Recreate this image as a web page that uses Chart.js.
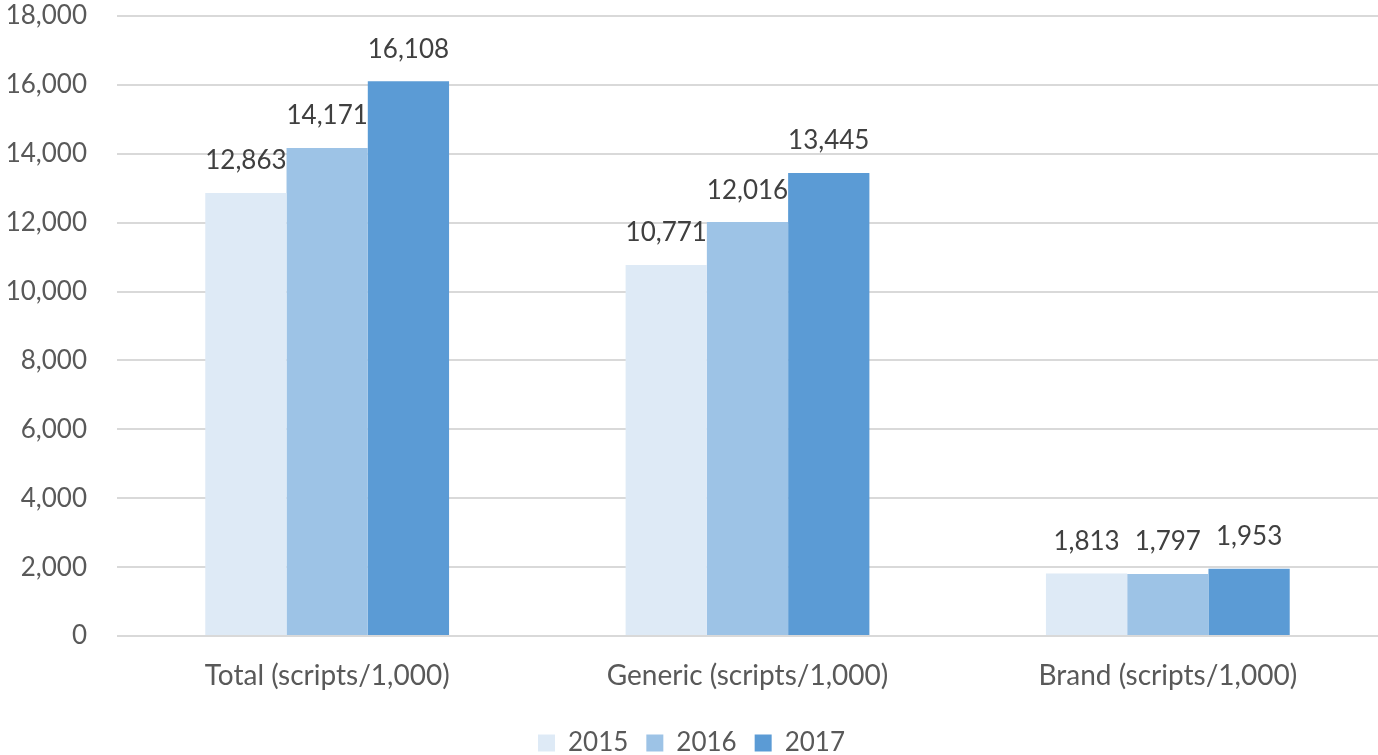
<!DOCTYPE html>
<html><head><meta charset="utf-8">
<script src="https://cdn.jsdelivr.net/npm/chart.js@4.4.0/dist/chart.umd.min.js"></script>
<style>html,body{margin:0;padding:0;background:#fff}#wrap{width:1378px;height:755px}</style>
</head><body><div id="wrap"><canvas id="c" width="1378" height="755"></canvas></div>
<script>
const categories = ["Total (scripts/1,000)", "Generic (scripts/1,000)", "Brand (scripts/1,000)"];
const seriesNames = ["2015", "2016", "2017"];
const values2015 = [12863, 10771, 1813];
const values2016 = [14171, 12016, 1797];
const values2017 = [16108, 13445, 1953];
const colors = ["#DEEAF6", "#9DC3E6", "#5B9BD5"];
const FONT = "Lato, 'Open Sans', sans-serif";

const labelPlugin = {
  id: 'valueLabels',
  afterDatasetsDraw(chart) {
    const ctx = chart.ctx;
    ctx.save();
    ctx.font = "26px " + FONT;
    ctx.fillStyle = "#404040";
    ctx.textAlign = "center";
    ctx.textBaseline = "bottom";
    chart.data.datasets.forEach((ds, i) => {
      chart.getDatasetMeta(i).data.forEach((bar, j) => {
        ctx.fillText(ds.data[j].toLocaleString('en-US'), bar.x, bar.y - 19);
      });
    });
    ctx.restore();
  }
};

new Chart(document.getElementById('c'), {
  type: 'bar',
  data: {
    labels: categories,
    datasets: [
      {label: seriesNames[0], data: values2015, backgroundColor: colors[0]},
      {label: seriesNames[1], data: values2016, backgroundColor: colors[1]},
      {label: seriesNames[2], data: values2017, backgroundColor: colors[2]}
    ]
  },
  options: {
    responsive: false,
    animation: false,
    layout: {padding: {top: 0, right: 0, left: 5, bottom: -11}},
    datasets: {bar: {categoryPercentage: 0.58, barPercentage: 1.0}},
    scales: {
      x: {
        grid: {display: false},
        border: {display: false},
        ticks: {color: "#595959", font: {size: 28, family: FONT}, padding: 15},
        afterFit(scale) { scale.paddingLeft = 0; scale.paddingRight = 0; scale.height = 76; }
      },
      y: {
        min: 0, max: 18000,
        grid: {color: "#D9D9D9", lineWidth: 2, drawTicks: false},
        border: {display: false},
        ticks: {stepSize: 2000, color: "#595959", font: {size: 26, family: FONT}, padding: 30,
          callback: v => v.toLocaleString('en-US')},
        afterFit(scale) { scale.width = 112; scale.paddingTop = 16; scale.paddingBottom = 0; }
      }
    },
    plugins: {
      legend: {
        position: 'bottom',
        labels: {boxWidth: 17, boxHeight: 17, color: "#595959", font: {size: 26, family: FONT}, padding: 18}
      },
      tooltip: {enabled: false}
    }
  },
  plugins: [labelPlugin]
});
</script></body></html>
